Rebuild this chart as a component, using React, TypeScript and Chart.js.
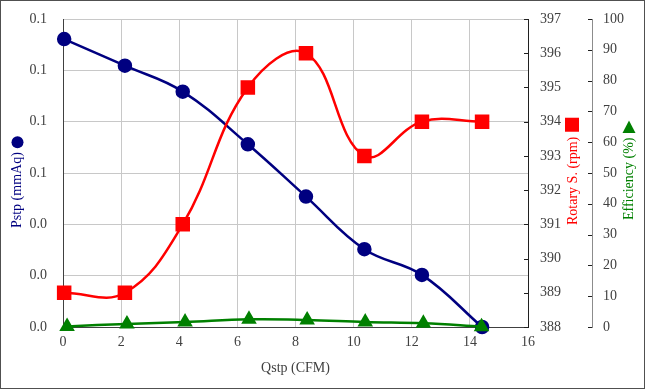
import React, { useEffect, useRef } from "react";
import { Chart, registerables } from "chart.js";

Chart.register(...registerables);

// ---- data ----
const qstp = [0.04, 2.13, 4.12, 6.36, 8.36, 10.37, 12.35, 14.42];
const pstp = [0.1122, 0.1018, 0.0917, 0.0712, 0.0508, 0.0303, 0.0203, 0.0];
const rotarySpeed = [389, 389, 391, 395, 396, 393, 394, 394];
const qstpEff = [0.14, 2.2, 4.2, 6.4, 8.4, 10.4, 12.4, 14.4];
const efficiency = [0.2, 1.0, 1.6, 2.5, 2.3, 1.6, 1.2, 0.1];

const xTitle = "Qstp (CFM)";
const pTitle = "Pstp (mmAq)";
const rTitle = "Rotary S. (rpm)";
const eTitle = "Efficiency (%)";

const NAVY = "#000080";
const RED = "#ff0000";
const GREEN = "#008000";
const TEXT = "#404040";
const GRID = "#c8c8c8";
const FONT = "'Liberation Serif', 'Times New Roman', serif";

const decor = {
  id: "decor",
  beforeDraw(chart: any) {
    const ctx = chart.ctx;
    ctx.save();
    ctx.fillStyle = "#ffffff";
    ctx.fillRect(0, 0, chart.width, chart.height);
    ctx.restore();
  },
  afterDraw(chart: any) {
    const ctx = chart.ctx;
    const y1 = chart.scales.y1;
    const y2 = chart.scales.y2;
    ctx.save();
    ctx.lineWidth = 1;
    ctx.strokeStyle = "#202020";
    y1.ticks.forEach((t: any) => {
      const py = Math.round(y1.getPixelForValue(t.value)) + 0.5;
      ctx.beginPath();
      ctx.moveTo(y1.left - 4, py);
      ctx.lineTo(y1.left, py);
      ctx.stroke();
    });
    y2.ticks.forEach((t: any) => {
      const py = Math.round(y2.getPixelForValue(t.value)) + 0.5;
      ctx.beginPath();
      ctx.moveTo(y2.left - 4, py);
      ctx.lineTo(y2.left, py);
      ctx.stroke();
    });

    ctx.font = "14px " + FONT;
    ctx.fillStyle = TEXT;
    ctx.textAlign = "center";
    ctx.textBaseline = "middle";
    const ca = chart.chartArea;
    ctx.fillText(xTitle, (ca.left + ca.right) / 2, 368);

    const vTitle = (text: string, x: number, bottom: number, color: string) => {
      ctx.save();
      ctx.translate(x, bottom);
      ctx.rotate(-Math.PI / 2);
      ctx.fillStyle = color;
      ctx.textAlign = "left";
      ctx.textBaseline = "middle";
      ctx.fillText(text, 0, 0);
      ctx.restore();
      return ctx.measureText(text).width;
    };

    let w = vTitle(pTitle, 17.5, 228, NAVY);
    ctx.fillStyle = NAVY;
    ctx.beginPath();
    ctx.arc(17.5, 228 - w - 10, 6, 0, Math.PI * 2);
    ctx.fill();

    w = vTitle(rTitle, 573, 225, RED);
    ctx.fillStyle = RED;
    const sy = 225 - w - 12;
    ctx.fillRect(572 - 7, sy - 7, 14, 14);

    w = vTitle(eTitle, 629, 220, GREEN);
    ctx.fillStyle = GREEN;
    const ty = 220 - w - 10;
    ctx.beginPath();
    ctx.moveTo(629, ty - 7);
    ctx.lineTo(629 + 6.5, ty + 5.5);
    ctx.lineTo(629 - 6.5, ty + 5.5);
    ctx.closePath();
    ctx.fill();

    ctx.strokeStyle = "#505050";
    ctx.strokeRect(0.5, 0.5, 644, 388);
    ctx.restore();
  },
};

export default function App() {
  const ref = useRef<HTMLCanvasElement | null>(null);

  useEffect(() => {
    if (!ref.current) return;
    const tickFont = { family: FONT, size: 14 };
    const chart = new Chart(ref.current, {
      type: "line",
      data: {
        datasets: [
          {
            label: "Pstp",
            data: qstp.map((x, i) => ({ x, y: pstp[i] })),
            yAxisID: "y",
            borderColor: NAVY,
            backgroundColor: NAVY,
            pointBackgroundColor: NAVY,
            pointBorderColor: NAVY,
            pointStyle: "circle",
            pointRadius: 6,
            borderWidth: 2.5,
            tension: 0.4,
            clip: false,
            order: 3,
          },
          {
            label: "Rotary",
            data: qstp.map((x, i) => ({ x, y: rotarySpeed[i] })),
            yAxisID: "y1",
            borderColor: RED,
            backgroundColor: RED,
            pointBackgroundColor: RED,
            pointBorderColor: RED,
            pointStyle: "rect",
            pointRadius: 8.5,
            borderWidth: 2.5,
            tension: 0.4,
            clip: false,
            order: 2,
          },
          {
            label: "Efficiency",
            data: qstpEff.map((x, i) => ({ x, y: efficiency[i] })),
            yAxisID: "y2",
            borderColor: GREEN,
            backgroundColor: GREEN,
            pointBackgroundColor: GREEN,
            pointBorderColor: GREEN,
            pointStyle: "triangle",
            pointRadius: 6.5,
            borderWidth: 2.5,
            tension: 0.4,
            clip: false,
            order: 1,
          },
        ],
      },
      options: {
        animation: false,
        responsive: false,
        devicePixelRatio: 1,
        layout: { padding: { top: 19, left: 0, right: 0, bottom: 0 } },
        plugins: { legend: { display: false }, tooltip: { enabled: false } },
        scales: {
          x: {
            type: "linear",
            min: 0,
            max: 16,
            ticks: { stepSize: 2, color: TEXT, font: tickFont, padding: 7, maxRotation: 0 },
            grid: { color: GRID, drawTicks: false },
            border: { color: TEXT },
            afterFit: (s: any) => {
              s.height = 63;
            },
          },
          y: {
            type: "linear",
            position: "left",
            min: 0,
            max: 0.12,
            ticks: {
              stepSize: 0.02,
              color: TEXT,
              font: tickFont,
              padding: 10,
              callback: (v: any) => Number(v).toFixed(1),
            },
            grid: { color: GRID, drawTicks: true, tickLength: 6, tickColor: "rgba(0,0,0,0)" },
            border: { color: TEXT },
            afterFit: (s: any) => {
              s.width = 63;
            },
          },
          y1: {
            type: "linear",
            position: "right",
            min: 388,
            max: 397,
            ticks: { stepSize: 1, color: TEXT, font: tickFont, padding: 6 },
            grid: { drawOnChartArea: false, drawTicks: true, tickLength: 6, tickColor: "rgba(0,0,0,0)" },
            border: { color: "#202020" },
            afterFit: (s: any) => {
              s.width = 64;
            },
          },
          y2: {
            type: "linear",
            position: "right",
            min: 0,
            max: 100,
            ticks: { stepSize: 10, color: TEXT, font: tickFont, padding: 6 },
            grid: { drawOnChartArea: false, drawTicks: true, tickLength: 5, tickColor: "rgba(0,0,0,0)" },
            border: { color: "#8c8c8c" },
            afterFit: (s: any) => {
              s.width = 55;
            },
          },
        },
      },
      plugins: [decor],
    } as any);
    return () => chart.destroy();
  }, []);

  return (
    <div style={{ position: "absolute", left: 0, top: 0, width: 647, height: 390, background: "#fff" }}>
      <canvas ref={ref} width={647} height={390} style={{ display: "block", width: 647, height: 390 }} />
    </div>
  );
}
